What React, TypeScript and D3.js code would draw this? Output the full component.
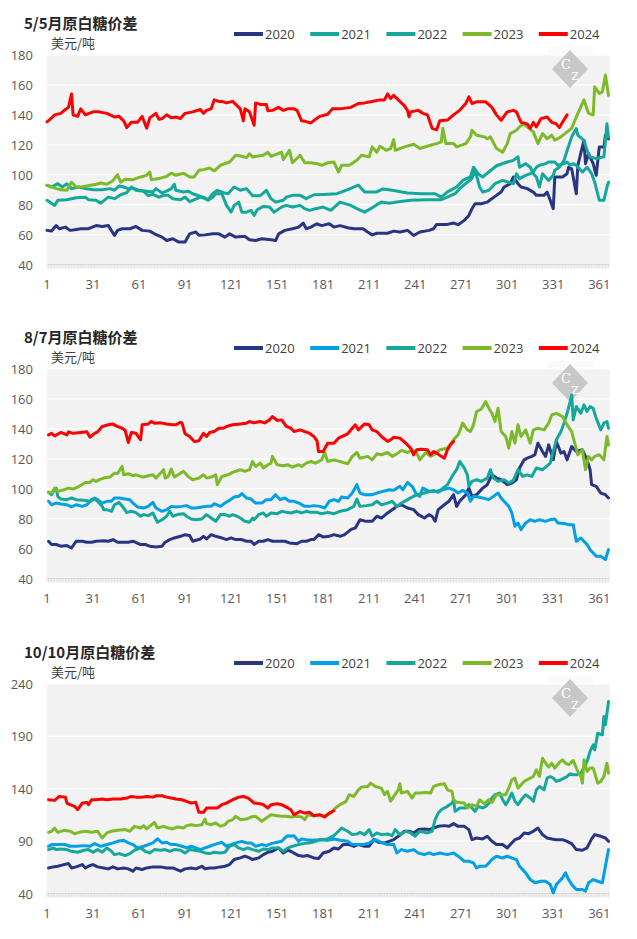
import React from 'react';
import * as d3 from 'd3';

type P = [number, number][];

// ---------- shared labels ----------
const years = ['2020', '2021', '2022', '2023', '2024'];
const xTicks = [1, 31, 61, 91, 121, 151, 181, 211, 241, 271, 301, 331, 361];
const unitLabel = '美元/吨';
const titles = ['5/5月原白糖价差', '8/7月原白糖价差', '10/10月原白糖价差'];
const yTicks1 = [40, 60, 80, 100, 120, 140, 160, 180];
const yTicks2 = [40, 60, 80, 100, 120, 140, 160, 180];
const yTicks3 = [40, 90, 140, 190, 240];

// ---------- panel 1: 5/5 ----------
const p1_2020: P = [[1,62.8],[4,62.4],[7,66],[9,63.9],[13,65],[16,62.8],[19,63.2],[23,63.9],[28,63.9],[33,66],[37,65.4],[41,66],[45,59.4],[47,62.8],[50,63.9],[55,63.9],[59,65.4],[63,62.8],[68,62.3],[71,60.5],[76,58.3],[79,56],[83,57.2],[87,55],[91,55],[94,60.5],[98,61.7],[100,59.5],[104,59.8],[109,60.5],[113,60.5],[117,58.3],[120,60.5],[124,58.3],[130,58.8],[133,56.5],[137,56],[141,57.2],[147,56.5],[150,56],[152,60.5],[156,62.8],[161,63.9],[165,65],[168,67.7],[170,63.9],[173,65],[177,67.2],[180,66],[185,67.2],[188,65],[192,66],[197,64.6],[201,63.9],[207,63.9],[210,61.7],[213,59.8],[216,60.9],[223,60.9],[227,62.3],[231,61.7],[236,62.8],[240,59.4],[244,61.7],[250,62.8],[253,63.9],[255,66.8],[262,66.8],[266,67.7],[269,66.6],[273,69.5],[276,72.8],[278,77.3],[280,80.6],[284,80.6],[288,81.7],[290,83.3],[294,86.2],[297,88.4],[299,91.8],[303,94],[305,98.5],[308,94],[310,91.8],[314,90.7],[318,88.4],[320,86.2],[325,86.2],[327,88.4],[329,82.9],[331,77.3],[332,98.5],[337,98.5],[340,100.7],[341,105],[343,104],[346,87.3],[347,106.3],[351,123],[352,107.4],[354,114],[357,107.4],[359,99.6],[361,118.6],[364,118.6],[365,126.4],[367,124]];
const p1_2021: P = [[1,82.9],[6,79.5],[8,82.9],[14,83.3],[20,84.6],[26,85],[28,83.3],[33,82.9],[36,81],[41,85],[45,84],[49,86.6],[53,88],[56,91.8],[59,89.6],[64,89],[67,86],[70,86.9],[74,85],[77,86.2],[80,86.2],[83,84],[88,83.3],[91,85],[94,82],[101,85],[104,84],[106,82.9],[109,85],[111,87.3],[115,87.3],[118,79.5],[121,75],[123,79.5],[126,81.7],[128,75],[131,75],[134,76.2],[136,72.8],[138,76.6],[142,78.8],[146,78.4],[149,75],[154,78.4],[157,79.5],[161,78.4],[166,79.5],[169,77.3],[172,76.2],[176,77.3],[181,78.4],[186,76.2],[192,81.7],[199,79.5],[203,77.3],[208,75],[212,77.3],[216,80],[219,81.7],[224,81],[229,81.7],[238,82.9],[249,83.3],[258,83.3],[262,85],[267,87.3],[270,90.7],[275,95],[278,97.4],[280,103],[283,91.8],[285,88.4],[289,89.6],[293,94],[298,96.2],[302,95],[305,94],[307,100.7],[309,97.4],[313,99.6],[316,100.7],[318,101.8],[320,105],[322,106.3],[326,107.4],[328,108.5],[332,108.5],[334,106.3],[338,107.4],[340,108.5],[342,106.3],[344,107.4],[346,106.3],[350,101.8],[353,105],[356,100.7],[358,95],[361,82.9],[364,82.9],[366,91.8],[367,95]];
const p1_2022: P = [[1,92.9],[4,91.8],[8,94],[11,91.8],[14,94],[17,90.7],[22,91.8],[26,90.7],[31,90],[37,90],[42,90.7],[45,89.6],[48,92.5],[51,91.8],[54,90.7],[57,91],[61,89.6],[66,89],[70,88.4],[72,90.7],[76,87.8],[79,89],[82,90.7],[84,93.6],[85,89.6],[90,88.4],[93,89],[96,87.3],[101,85.5],[103,85],[106,83.3],[109,87.3],[112,89.6],[116,88],[119,87.3],[123,91.8],[127,89.6],[131,90.7],[135,86],[140,86],[144,89.6],[147,84],[150,81.7],[155,82.9],[157,85],[161,86.2],[166,86.2],[170,84],[175,86.6],[181,86.8],[190,87.3],[197,90],[204,93],[208,88.5],[216,88.5],[220,90.5],[227,89.5],[236,87.8],[245,87.3],[254,87.3],[258,85],[262,88.5],[268,91.8],[272,96.2],[277,98.5],[279,105],[282,100.7],[285,98.5],[289,101.8],[294,106],[301,108.5],[305,109.6],[308,112],[309,105],[313,107.4],[316,105],[318,100.7],[320,98.5],[322,91.8],[324,100.7],[328,96.2],[331,99.6],[332,103],[335,105],[338,109.6],[340,116],[343,125.3],[346,130.8],[347,126.4],[351,123],[353,116.3],[355,111.9],[359,110.8],[364,111.9],[366,134],[367,125]];
const p1_2023: P = [[1,92.9],[4,92],[7,90.7],[10,90],[14,89.6],[17,95],[20,91.8],[24,92],[27,92.5],[33,93.6],[36,94.5],[40,93.6],[44,96],[47,100],[49,95],[52,97],[57,96.7],[62,98.5],[66,99.6],[68,101.8],[69,96.7],[74,97.4],[79,98.9],[82,101],[85,99.6],[90,101],[94,98.5],[97,98.5],[100,103],[103,103.4],[107,104.5],[110,102.5],[114,106.3],[120,108.5],[124,113],[128,112.3],[131,111.4],[133,114],[135,111.9],[142,113],[145,115],[147,112.3],[154,115],[155,110],[159,116.3],[161,108],[166,113],[169,108],[173,108],[177,107.4],[180,106.3],[184,108],[188,108.5],[191,101.8],[193,106.3],[198,106.3],[203,109.6],[206,113],[211,111.9],[213,118.6],[216,115],[218,119],[222,116.3],[225,117.5],[227,123.5],[228,116.3],[234,118.6],[240,120.4],[244,117.5],[251,119.7],[255,120.8],[258,122],[259,131],[261,120.8],[266,120.8],[268,118.6],[274,120.8],[277,125.3],[278,129.7],[281,126.4],[286,125.3],[288,124],[290,125.3],[294,117.5],[298,115],[301,120.8],[303,127.5],[307,129.7],[309,132],[312,134],[314,132],[318,128.6],[321,120.8],[324,127.5],[327,124],[330,126.4],[332,123],[336,125.3],[340,128.6],[343,131],[346,138.6],[351,150],[354,141],[357,140],[358,158.7],[361,154.3],[363,155.4],[365,166.6],[367,153]];
const p1_2024: P = [[1,135.3],[3,137],[6,140],[10,141],[13,143.6],[15,145],[17,154],[18,140],[21,139],[23,144],[26,140],[31,142],[35,142],[40,141],[45,138.6],[48,139],[51,136],[53,131.5],[56,135],[60,135],[63,139],[66,131],[68,138],[72,141],[74,137],[76,137.5],[79,140],[82,138],[85,138.6],[88,137.5],[91,141],[96,142],[101,143.6],[103,141],[105,143],[108,144],[110,150],[113,149],[115,149],[118,148],[122,149],[124,147],[127,144],[129,136],[130,144],[133,142],[136,133],[137,148],[140,147],[144,147],[145,142.7],[148,143],[152,145],[155,143],[158,144],[162,144],[164,143],[167,136],[170,135.5],[173,134.6],[176,137],[179,139],[184,140.4],[187,144],[192,144],[199,145],[204,147.6],[208,148],[212,148.7],[218,150],[221,150],[223,154],[225,151],[227,153],[231,149],[234,146],[236,143],[237,138.7],[238,142],[243,143],[246,141],[249,140],[252,131],[255,130],[257,136],[262,136.5],[266,140],[270,143],[274,147.6],[276,152],[278,147.6],[281,148.7],[287,148.7],[291,145],[294,140],[297,136.4],[301,142],[305,143],[307,142],[310,135],[314,134],[316,131],[318,135],[320,132],[323,137.5],[327,138.6],[330,135],[333,134],[335,131.5],[337,135],[340,140]];

// ---------- panel 2: 8/7 ----------
const p2_2020: P = [[2,64.9],[4,62.7],[7,62.7],[10,61.6],[14,62],[17,60.4],[20,64.9],[24,64.9],[27,64.2],[30,64.2],[33,64.9],[38,65.3],[41,64.9],[44,66],[47,64.2],[51,64.2],[54,64.2],[57,64.9],[62,62.7],[65,62.7],[68,61.6],[72,61.1],[76,61.6],[78,64.2],[81,66],[84,67.1],[88,68.2],[91,69.3],[94,68.7],[96,64.9],[101,66.4],[103,68.2],[105,66.4],[108,69.3],[111,68.2],[115,67.1],[118,66],[121,67.1],[124,66],[128,66],[131,64.9],[134,64.9],[136,62.7],[139,64.9],[142,64.9],[145,66],[148,64.9],[153,64.9],[156,64.9],[159,63.8],[164,63.3],[167,64.9],[170,64.9],[173,66],[175,66],[178,69.3],[181,67.8],[185,68.2],[188,69.3],[192,68.2],[195,69.3],[199,72.7],[202,73.8],[205,79.3],[209,78.2],[213,78.2],[216,81.6],[219,80.4],[223,83.8],[226,86],[229,88.2],[232,89.3],[236,87.1],[240,86],[243,82.7],[247,80.4],[250,82.7],[252,81.6],[254,78.2],[256,86],[260,89.3],[263,91.6],[266,96],[268,88.2],[270,91.6],[274,96],[276,100.4],[278,94.9],[281,96],[285,100.4],[288,102.7],[291,109.3],[294,107.1],[297,106],[301,102.7],[304,103.8],[307,106],[309,113.8],[312,119.3],[314,120.4],[317,121.6],[319,122.7],[321,130.4],[324,124.9],[326,121.6],[328,129.3],[331,119.3],[333,131.6],[336,123.8],[338,124.9],[340,119.3],[343,128.2],[346,124.9],[350,126],[353,119.3],[355,112.7],[356,102.7],[359,101.6],[362,97.1],[365,96],[367,93.8]];
const p2_2021: P = [[2,91.6],[4,89.3],[7,90.4],[10,89.8],[14,89.3],[17,87.8],[20,89.3],[24,88.2],[27,89.3],[30,92.7],[32,93.8],[34,92.7],[37,90.4],[40,91.6],[43,91.6],[45,93.8],[48,93.8],[52,93.1],[55,92.7],[57,90.4],[60,87.8],[64,87.1],[67,88.2],[70,90.9],[72,87.1],[76,84.9],[79,86],[82,88.2],[85,87.8],[89,88.2],[92,88.7],[95,87.1],[98,87.1],[102,87.8],[105,88.2],[108,88.2],[110,90],[114,88.2],[117,90.4],[120,92.2],[123,94.4],[126,94.9],[128,96.7],[131,93.8],[134,93.1],[137,90.4],[141,90.4],[144,92.7],[147,92.7],[150,96],[153,92.7],[156,93.8],[159,91.6],[162,91.6],[166,90],[169,88.2],[172,88.2],[175,88.7],[179,88.2],[182,87.1],[185,91.6],[188,92.7],[191,91.6],[193,94.4],[197,93.8],[200,97.1],[203,102.7],[205,97.1],[208,96],[213,96],[216,97.1],[220,98.2],[224,99.3],[227,98.9],[231,101.6],[233,99.3],[236,104.2],[239,101.6],[242,96],[244,94.9],[246,100.4],[250,98.2],[253,98.9],[256,97.6],[259,99.3],[263,100.4],[266,99.3],[269,97.1],[272,98.9],[275,97.1],[277,91.6],[279,94.9],[282,94.4],[285,93.8],[289,92.7],[292,94.9],[295,97.1],[297,93.8],[300,90.4],[302,88.2],[304,83.8],[306,74.9],[308,77.1],[310,72.7],[313,77.1],[316,79.3],[319,78.2],[322,79.3],[326,78.2],[329,79.3],[332,79.8],[334,77.1],[338,76.7],[341,76],[344,76],[346,64.9],[349,67.1],[353,62.7],[355,59.3],[357,57.1],[359,54.9],[362,54.9],[365,52.7],[367,59.3]];
const p2_2022: P = [[2,97.6],[4,96],[5,98.2],[7,100.4],[8,94.9],[10,93.1],[14,92.7],[17,93.8],[20,92.7],[25,92.3],[29,91.6],[32,93.1],[34,91.6],[37,88.2],[38,86],[40,86],[43,84.9],[45,89.3],[48,90.9],[51,87.1],[53,84],[56,84.9],[59,84],[62,81.6],[64,82.7],[67,82],[70,83.8],[73,77.6],[76,79.3],[79,81.6],[81,84.9],[83,81.6],[86,82.7],[90,83.3],[92,81.6],[95,79.8],[98,79.3],[102,79.8],[105,82.7],[108,80.4],[111,78.2],[114,82.7],[117,82.7],[120,81.6],[122,82.7],[124,82],[127,80.4],[130,78.2],[133,77.6],[135,80.4],[136,79.3],[139,82.7],[142,83.8],[144,81.6],[147,83.8],[151,83.3],[154,84.9],[157,84.2],[160,83.8],[164,84.9],[167,83.8],[170,84.9],[173,84.2],[177,84.2],[180,83.3],[184,84.2],[188,83.3],[192,84.9],[197,86],[201,88.2],[203,93.1],[205,88.2],[209,88.7],[213,89.3],[216,91.6],[219,89.3],[223,90.4],[226,91.6],[229,88.2],[232,90.4],[236,92.7],[239,94.4],[242,96],[247,97.1],[251,98.2],[255,98.2],[258,99.3],[262,102.7],[265,108.2],[268,112.7],[270,118.2],[273,113.8],[275,109.3],[276,101.6],[278,104.9],[281,106],[284,104.9],[288,107.1],[290,112.7],[292,107.1],[295,104.9],[299,106],[302,103.8],[305,105.6],[308,112.7],[311,108.2],[314,109.3],[317,108.2],[320,113.8],[324,112.7],[327,115.3],[329,117.1],[331,124.9],[333,132.7],[336,138.2],[338,143.8],[340,150.4],[342,158.2],[343,162.7],[344,146],[346,154.9],[349,150.4],[351,156],[353,151.6],[355,154.9],[357,153.8],[359,147.1],[362,139.3],[364,143.8],[366,144.9],[367,140.4]];
const p2_2023: P = [[2,97.6],[4,97.1],[6,100.4],[8,98.2],[12,99.3],[15,100.4],[18,99.8],[22,101.6],[26,104.2],[29,104.2],[31,106],[33,104.9],[36,106.4],[38,107.1],[42,107.8],[45,110.4],[47,110],[50,114.9],[51,109.3],[54,110],[57,108.7],[59,109.3],[62,108.2],[64,107.8],[67,108.7],[70,109.3],[72,107.1],[75,110.4],[77,112.7],[78,107.1],[80,108.2],[82,113.1],[84,107.8],[88,110.4],[90,111.6],[93,108.2],[96,106],[100,107.1],[103,109.3],[105,107.1],[108,107.8],[111,109.3],[112,102.7],[115,108.2],[119,109.3],[122,110.9],[127,112.7],[130,111.6],[133,112.7],[135,118.2],[137,114.9],[140,117.1],[142,113.8],[145,116],[147,117.1],[148,121.6],[151,116],[155,115.3],[158,116],[161,114.4],[165,116],[167,114.9],[170,117.1],[173,118.2],[176,117.1],[180,119.3],[182,124.2],[184,118.2],[188,119.3],[192,118.2],[197,116.7],[200,121.6],[203,124.2],[205,120.4],[210,121.6],[213,119.3],[216,123.3],[219,122.7],[223,124.2],[226,121.6],[229,123.3],[232,125.6],[236,124.2],[239,126],[242,123.8],[244,119.3],[248,124.2],[251,121.6],[254,123.3],[257,126],[262,127.1],[266,132.7],[269,136],[272,143.8],[275,139.3],[277,138.2],[279,142.7],[281,151.6],[284,153.1],[287,158.2],[289,153.8],[291,150.4],[293,144.9],[295,153.8],[297,138.2],[300,134.9],[302,127.1],[304,138.2],[306,130.4],[308,142.7],[310,134.9],[313,139.3],[316,130.4],[318,139.3],[321,140.4],[325,139.3],[328,143.8],[330,149.3],[333,150.4],[337,148.2],[340,142.7],[343,138.2],[345,130.4],[347,122.7],[350,126],[352,112.7],[354,121.6],[356,119.3],[358,121.6],[361,122.7],[364,119.3],[366,134.9],[367,129.3]];
const p2_2024: P = [[2,136],[4,137],[6,135.3],[10,137.6],[14,136],[15,138],[18,137],[23,137.6],[27,138],[29,134.4],[32,137],[34,138],[37,141.6],[41,142.7],[44,143.3],[46,142],[50,140.4],[52,138.9],[54,130.9],[56,137.6],[59,137],[62,132.7],[63,142.7],[67,143.3],[69,144.9],[71,143.8],[75,144],[79,143.3],[83,142.7],[85,142.7],[88,144.4],[89,144],[91,136.7],[94,134.9],[97,131.6],[100,132],[103,137],[105,134.9],[107,137.6],[110,138.2],[113,140.4],[116,140.4],[118,141.6],[122,142.7],[127,143.3],[131,143.8],[133,144.9],[136,144],[140,144.9],[143,144],[146,146],[148,148.2],[151,145.6],[154,146],[157,141.6],[160,140.4],[162,138.2],[166,139.3],[169,138.2],[172,137.1],[175,134.9],[177,132],[178,124.9],[181,124.9],[184,130.4],[188,130.4],[191,133.8],[197,136.7],[200,140.4],[202,142.7],[204,139.3],[208,143.3],[211,142.7],[213,139.3],[216,138.2],[219,134.9],[223,131.6],[225,132.7],[227,134.4],[231,133.8],[235,130.4],[238,127.1],[240,122.7],[242,126],[245,126.4],[249,126],[251,122.7],[253,124.9],[255,123.8],[258,121.6],[260,120.4],[262,126],[264,129.3],[266,131.6]];

// ---------- panel 3: 10/10 ----------
const p3_2020: P = [[2,64.4],[5,65.4],[8,66],[12,67.6],[15,68.6],[17,64.4],[20,65.4],[24,67.6],[26,64.4],[29,66.7],[31,67.6],[34,65.4],[38,64.4],[41,63.5],[44,65.4],[47,63.5],[51,64.4],[54,63.5],[57,61.3],[59,64.4],[63,62.9],[66,64.4],[70,65.4],[75,65.4],[79,64.4],[83,64.4],[88,61.3],[91,63.5],[95,64.4],[98,63.5],[102,66],[104,63.5],[107,64.4],[110,64.4],[114,65.4],[117,66],[120,67.6],[123,72.4],[127,74],[130,75.6],[133,74],[135,72.4],[139,74],[142,77.1],[145,79.4],[148,80.3],[152,83.5],[155,78.7],[158,81.3],[161,79.4],[165,76.2],[168,75.6],[171,76.2],[175,74],[178,73.5],[181,78.7],[185,80.3],[188,83.5],[191,82.5],[194,86.7],[198,86.7],[201,85.1],[204,86.7],[208,85.1],[211,85.1],[214,91.4],[217,88.9],[221,88.3],[224,89.8],[227,91.4],[230,94.6],[234,99.4],[237,99.4],[240,97.8],[243,101],[247,101.6],[250,101],[253,102.5],[256,104.1],[260,104.8],[263,104.1],[266,106.7],[269,104.1],[273,104.1],[276,101],[278,91.4],[281,93],[285,92.1],[288,94.6],[291,89.8],[294,86.7],[298,86.7],[301,83.5],[303,86.7],[306,91.4],[309,93],[312,97.8],[315,97.1],[318,99.4],[321,102.5],[324,96.2],[327,93],[330,92.1],[333,91.4],[337,91.4],[340,89.8],[343,87.6],[346,81.9],[350,81.3],[353,83.5],[356,92.1],[358,96.2],[362,94.6],[365,93],[367,89.8]];
const p3_2021: P = [[2,85.1],[4,86.7],[8,86.7],[13,86.7],[16,85.1],[20,85.1],[25,85.7],[29,85.1],[32,87.6],[36,85.1],[40,86.7],[44,88.3],[47,89.8],[51,90.8],[54,88.3],[57,86.7],[60,83.5],[64,85.1],[67,86.7],[70,88.3],[73,92.1],[76,88.3],[79,88.9],[82,86.7],[85,86.7],[89,85.1],[92,83.5],[95,85.1],[98,83.5],[101,81.9],[104,83.5],[107,85.1],[110,86.7],[115,88.9],[118,85.1],[121,86.7],[124,88.3],[128,89.8],[131,88.3],[134,88.3],[137,85.1],[141,86.7],[144,85.7],[147,87.6],[151,88.9],[154,89.8],[156,93],[158,95.2],[160,94.6],[162,95.2],[165,89.8],[167,92.1],[170,91.4],[174,90.8],[179,91.4],[184,90.8],[188,92.1],[192,90.8],[197,89.8],[200,86.7],[204,86.7],[207,86.7],[211,88.3],[215,91.4],[219,88.9],[223,86.7],[227,86.7],[229,78.7],[232,81.9],[236,80.3],[240,81.9],[243,78.7],[247,77.1],[250,78.7],[253,77.1],[257,78.7],[262,77.1],[266,78.7],[269,75.6],[273,70.8],[276,70.8],[279,69.2],[281,64.4],[283,66],[287,66],[289,69.2],[291,72.4],[294,75.6],[298,73.9],[301,75.6],[304,73.9],[307,72.4],[309,66],[313,59.7],[316,53.3],[319,50.2],[323,51.7],[326,51.7],[329,48.6],[331,40.6],[333,48.6],[337,54.9],[339,59.7],[341,53.3],[343,48.6],[346,43.8],[350,43.8],[352,42.2],[354,50.2],[357,53.3],[360,51.7],[363,50.2],[365,66],[367,81.9]];
const p3_2022: P = [[2,81.9],[5,83.5],[7,81.9],[10,82.5],[14,81.9],[17,80.3],[21,79.4],[25,81.3],[28,81.9],[31,79.4],[34,81.9],[37,79.4],[40,83.5],[43,80.3],[45,77.1],[48,78.1],[52,76.2],[55,78.1],[58,81.3],[62,83.5],[65,80.3],[68,78.7],[71,81.9],[75,81.3],[78,81.9],[81,80.3],[84,81.9],[88,81.3],[91,78.7],[94,81.9],[97,81.3],[101,80.3],[104,78.7],[107,78.1],[110,79.4],[114,78.7],[117,79.4],[120,85.1],[123,86.7],[126,83.5],[129,81.9],[132,83.5],[135,81.9],[139,80.3],[142,82.5],[145,81.9],[148,83.5],[152,83.5],[155,80.3],[158,83.5],[161,85.1],[165,86.7],[168,87.6],[171,88.3],[174,88.9],[176,89.8],[179,91.4],[184,92.1],[188,95.2],[191,99.4],[193,102.5],[197,99.4],[200,96.2],[203,96.8],[205,98.4],[208,96.2],[211,101],[213,94.6],[216,97.8],[219,96.2],[223,96.8],[226,95.2],[228,101],[231,96.2],[235,99.4],[238,97.8],[241,94.6],[244,99.4],[249,97.8],[252,99.4],[254,110.5],[256,116.8],[258,120],[262,123.2],[265,126.3],[266,129.5],[267,118.4],[270,121.6],[274,121.6],[276,124.8],[278,121.6],[280,118.4],[282,123.2],[285,121.6],[287,123.2],[289,126.3],[291,131.1],[293,134.3],[296,135.9],[298,129.5],[300,124.8],[302,129.5],[304,135.9],[306,128],[308,124.8],[311,131.1],[313,134.3],[316,131.1],[318,128],[320,139],[322,142.2],[325,139],[327,150.2],[329,151.7],[331,150.2],[333,147],[336,148.6],[338,150.2],[340,151.7],[342,154.3],[344,153.3],[346,153.3],[349,154.9],[351,160.6],[353,166],[355,175.6],[357,181.9],[358,177.1],[360,193],[363,191.4],[364,208.9],[365,201],[367,223.2]];
const p3_2023: P = [[2,98.4],[4,99.4],[6,102.5],[8,98.4],[12,100.3],[16,99.4],[19,97.1],[22,98.4],[26,99.4],[30,98.4],[34,99.4],[37,93],[40,97.8],[43,99.4],[47,100.3],[52,101],[55,99.4],[58,104.1],[62,102.5],[64,104.8],[66,101.6],[68,104.1],[71,108],[73,102.5],[77,104.1],[80,102.5],[83,101.6],[86,103.5],[90,102.5],[92,104.8],[95,105.7],[98,104.8],[102,105.7],[104,111.1],[105,106.7],[108,105.7],[111,107.3],[114,104.1],[117,105.7],[119,108.9],[122,110.5],[124,113.7],[127,110.5],[131,111.1],[134,113],[137,113.7],[141,108.9],[144,112.1],[147,115.2],[151,114.3],[154,113.7],[157,113.7],[160,113],[164,113.7],[167,113],[169,110.5],[171,115.2],[174,114.3],[178,115.2],[181,113.7],[186,116.8],[189,121.6],[192,124.8],[196,128],[198,134.3],[201,132.7],[204,139],[206,141.6],[210,142.2],[212,145.4],[215,142.2],[219,140.6],[221,134.3],[223,137.5],[225,128],[227,132.7],[230,139],[231,144.8],[232,135.9],[236,137.5],[239,131.1],[241,135.9],[244,135.9],[248,136.5],[251,135.9],[253,142.2],[256,143.8],[260,144.8],[262,139],[265,137.5],[266,129.5],[268,127],[273,126.3],[275,121.6],[278,124.8],[281,123.2],[283,129.5],[286,125.7],[289,129.5],[291,127],[294,134.3],[298,134.3],[300,134.3],[302,140.6],[304,148.6],[306,150.2],[308,140.6],[312,147],[314,148.6],[316,150.2],[318,151.7],[320,158.1],[322,151.7],[324,169.2],[326,164.4],[328,160.6],[330,164.4],[332,159.7],[335,165.1],[337,167.6],[339,164.4],[341,162.9],[344,167],[347,156.5],[349,151.7],[350,145.4],[351,167.6],[353,156.5],[355,159.7],[357,159.7],[360,145.4],[362,147],[364,151.7],[366,164.4],[367,154.9]];
const p3_2024: P = [[2,129.5],[6,128.9],[9,132.7],[13,132],[14,126.3],[16,124.8],[19,123.2],[21,120],[24,126.3],[27,127],[28,124.8],[30,129.5],[33,129.5],[37,130.2],[40,129.5],[44,130.2],[49,130.2],[53,131.1],[56,132.7],[59,132],[63,132],[66,132.7],[70,132],[72,133.3],[76,133.3],[79,132],[82,131.1],[85,130.2],[89,129.5],[92,127.9],[95,126.3],[98,127],[100,117.5],[103,117.5],[105,121.6],[109,121.6],[112,121.6],[115,124.8],[118,126.3],[120,127.9],[122,129.5],[126,132],[129,132.7],[132,131.1],[134,128.9],[136,126.3],[140,125.7],[142,124.8],[145,121.6],[147,124.8],[151,125.7],[154,124.8],[157,122.5],[160,120],[162,115.2],[166,118.4],[169,116.8],[172,117.5],[175,114.3],[179,115.2],[182,113],[185,116.8],[188,119]];

// ---------- colours ----------
const NAVY = '#283583';
const TEAL = '#14a89c';
const BLUE = '#00a0e6';
const GREEN = '#7dba2a';
const RED = '#ff0000';

const panelDefs = [
  { title: titles[0], top: 55, domain: [40, 180], ticks: yTicks1, data: [p1_2020, p1_2021, p1_2022, p1_2023, p1_2024], colors: [NAVY, TEAL, TEAL, GREEN, RED] },
  { title: titles[1], top: 369, domain: [40, 180], ticks: yTicks2, data: [p2_2020, p2_2021, p2_2022, p2_2023, p2_2024], colors: [NAVY, BLUE, TEAL, GREEN, RED] },
  { title: titles[2], top: 684, domain: [40, 240], ticks: yTicks3, data: [p3_2020, p3_2021, p3_2022, p3_2023, p3_2024], colors: [NAVY, BLUE, TEAL, GREEN, RED] },
];

const LEFT = 47;
const RIGHT = 610;
const PH = 209.5;
const FONT = "'Open Sans', 'Noto Sans CJK SC', sans-serif";
const CJK = "'Noto Sans CJK SC', 'Open Sans', sans-serif";
const days = d3.range(1, 368);

function Panel({ def }: { def: typeof panelDefs[number] }) {
  const top = def.top;
  const bottom = top + PH;
  const x = d3.scaleLinear().domain([1, 367]).range([LEFT, RIGHT - 1.5]);
  const y = d3.scaleLinear().domain(def.domain as [number, number]).range([bottom, top]);
  const line = d3.line<[number, number]>().x(d => x(d[0])).y(d => y(d[1]));
  const legendX = 234;
  const legendStep = 76.2;
  const wx = 570, wy = top + 14;
  return (
    <g>
      <text x={24} y={top - 32.5} dominantBaseline="central" fontFamily={CJK} fontWeight={700} fontSize={15} fill="#262626">{def.title}</text>
      <text x={51} y={top - 13} dominantBaseline="central" fontFamily={CJK} fontSize={13} fill="#404040">{unitLabel}</text>
      {years.map((yr, i) => (
        <g key={yr}>
          <line x1={legendX + i * legendStep} x2={legendX + i * legendStep + 29} y1={top - 21} y2={top - 21} stroke={def.colors[i]} strokeWidth={4} />
          <text x={legendX + i * legendStep + 31} y={top - 21} dominantBaseline="central" fontFamily={FONT} fontSize={13} fill="#404040">{yr}</text>
        </g>
      ))}
      <rect x={548} y={top - 8} width={45} height={8} fill="#fafafa" />
      <rect x={LEFT} y={top} width={RIGHT - LEFT} height={PH} fill="#f2f2f2" />
      {def.ticks.map(t => (
        <g key={t}>
          {t !== def.domain[0] && <line x1={LEFT} x2={RIGHT} y1={y(t)} y2={y(t)} stroke="#ffffff" strokeWidth={1.2} />}
          <text x={33} y={y(t)} textAnchor="end" dominantBaseline="central" fontFamily={FONT} fontSize={13} fill="#595959">{t}</text>
        </g>
      ))}
      <line x1={LEFT} x2={RIGHT} y1={bottom} y2={bottom} stroke="#d9d9d9" strokeWidth={1} />
      {days.map(d => (
        <line key={d} x1={x(d)} x2={x(d)} y1={bottom} y2={bottom + 4} stroke="#d9d9d9" strokeWidth={0.8} />
      ))}
      {xTicks.map(t => (
        <text key={t} x={x(t)} y={bottom + 19} textAnchor="middle" dominantBaseline="central" fontFamily={FONT} fontSize={13} fill="#595959">{t}</text>
      ))}
      <polygon points={`${wx},${wy - 19} ${wx + 18},${wy} ${wx},${wy + 19} ${wx - 18},${wy}`} fill="#c8c8c8" />
      <text x={wx - 4} y={wy - 5} textAnchor="middle" dominantBaseline="central" fontFamily="'DejaVu Serif', serif" fontSize={13} fill="#ffffff">C</text>
      <text x={wx + 5} y={wy + 7} textAnchor="middle" dominantBaseline="central" fontFamily="'DejaVu Serif', serif" fontSize={11} fill="#ffffff">Z</text>
      {def.data.map((s, i) => (
        <path key={i} d={line(s) || ''} fill="none" stroke={def.colors[i]} strokeWidth={3} strokeLinejoin="round" strokeLinecap="round" />
      ))}
    </g>
  );
}

export default function App() {
  return (
    <svg width={629} height={931} style={{ display: 'block', position: 'absolute', left: 0, top: 0 }} viewBox="0 0 629 931">
      <rect x={0} y={0} width={629} height={931} fill="#ffffff" />
      {panelDefs.map((p, i) => <Panel key={i} def={p} />)}
    </svg>
  );
}
